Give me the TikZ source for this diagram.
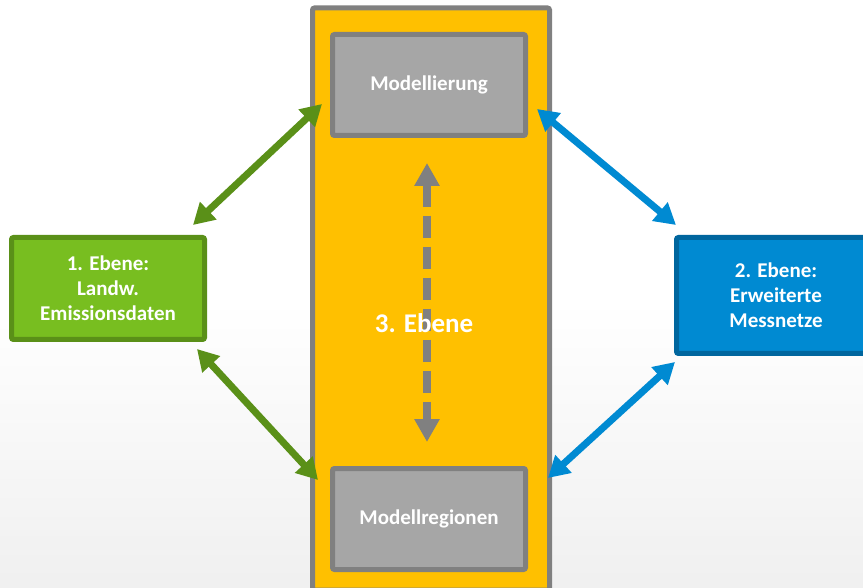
\documentclass[tikz,border=0pt]{standalone}
\usepackage{fontspec}
\setmainfont{Carlito}
\usetikzlibrary{arrows.meta,calc}
\definecolor{gold}{HTML}{FFC000}
\definecolor{rahmengrau}{HTML}{808080}
\definecolor{kastengrau}{HTML}{A6A6A6}
\definecolor{hellgruen}{HTML}{78BE20}
\definecolor{dunkelgruen}{HTML}{5A9018}
\definecolor{hellblau}{HTML}{008AD2}
\definecolor{dunkelblau}{HTML}{00669E}
\begin{document}
\begin{tikzpicture}[x=1pt, y=-1pt,
  box/.style={rectangle, rounded corners=2pt, line width=5pt, text=white, align=center,
    font=\bfseries\fontsize{21}{25}\selectfont},
  grau/.style={box, draw=rahmengrau, fill=kastengrau, minimum width=193pt, minimum height=101pt},
  pfeil/.style={line width=7pt, {Triangle[length=21pt,width=23pt]}-{Triangle[length=21pt,width=23pt]}}]
\useasboundingbox (0,0) rectangle (863,588);
\clip (0,0) rectangle (863,588);
\fill[white] (0,0) rectangle (863,300);
\shade[top color=white, bottom color=black!6] (0,300) rectangle (863,588);
\node [rectangle, rounded corners=2pt, line width=5pt, draw=rahmengrau, fill=gold,
  minimum width=237pt, minimum height=582pt] (ebene3) at (431,299) {};
\node [grau] (modellierung) at (429,85) {Modellierung};
\node [grau] (regionen) at (429,519) {Modellregionen};
\node [box, draw=dunkelgruen, fill=hellgruen, minimum width=193pt, minimum height=102pt]
  (ebene1) at (108,288.5) {1. Ebene:\\Landw.\\Emissionsdaten};
\node [box, draw=dunkelblau, fill=hellblau, minimum width=199pt, minimum height=116pt]
  (ebene2) at (776,295.5) {2. Ebene:\\Erweiterte\\Messnetze};
\draw [pfeil, draw=dunkelgruen] ($(ebene1.north east)+(-14,-10)$) -- ($(modellierung.west)+(-8,19)$);
\draw [pfeil, draw=dunkelgruen] ($(ebene1.south east)+(-10,7)$) -- ($(regionen.west)+(-12,-39)$);
\draw [pfeil, draw=hellblau] ($(modellierung.east)+(9,24)$) -- ($(ebene2.north west)+(2,-10)$);
\draw [pfeil, draw=hellblau] ($(ebene2.south west)+(1,6)$) -- ($(regionen.east)+(20,-41)$);
\draw [line width=8pt, draw=rahmengrau, dash pattern=on 22pt off 9pt,
  {Triangle[length=23pt,width=24pt]}-{Triangle[length=23pt,width=24pt]}]
  ($(modellierung.south)+(-2,25)$) -- ($(regionen.north)+(-2,-24)$);
\node [text=white, font=\bfseries\fontsize{27}{30}\selectfont] (titel) at (424,323) {3. Ebene};
\end{tikzpicture}
\end{document}
